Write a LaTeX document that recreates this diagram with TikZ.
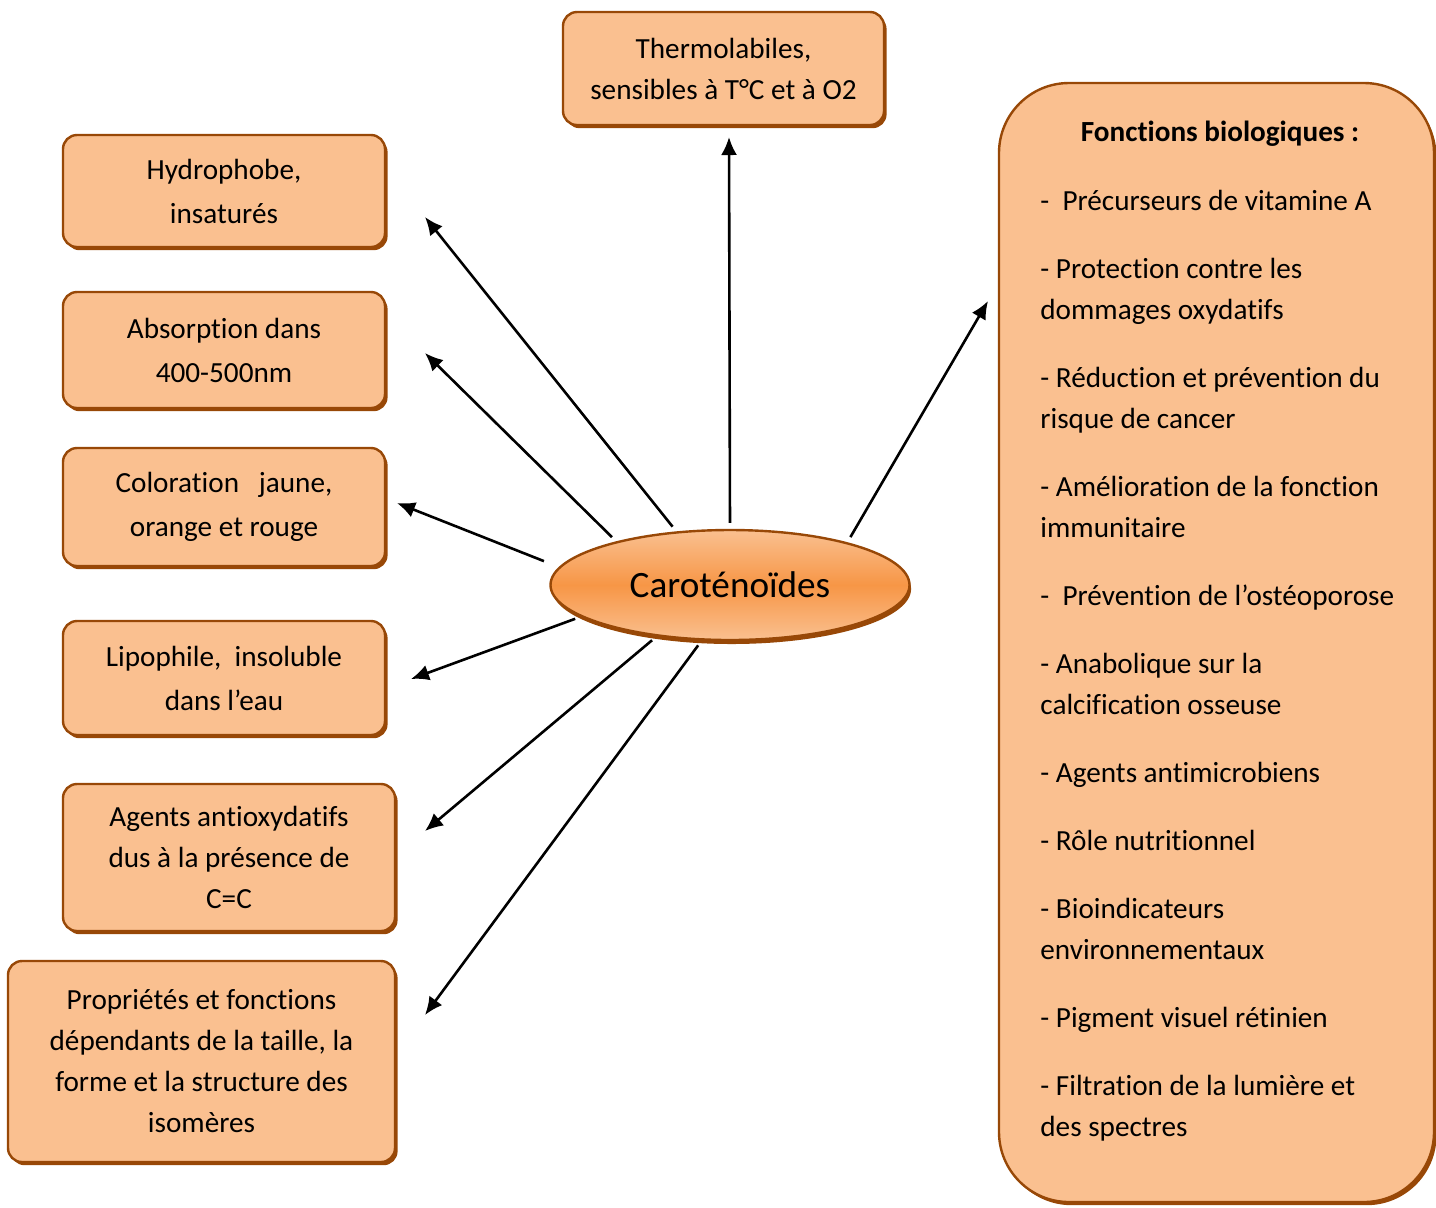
\documentclass[tikz,border=0pt]{standalone}
\usepackage{fontspec}
\setmainfont{Carlito}[Renderer=OpenType,Ligatures={NoCommon,NoContextual,NoRare}]
\usetikzlibrary{positioning,shapes.geometric,shadows,arrows.meta}
\definecolor{peau}{HTML}{FAC090}
\definecolor{brun}{HTML}{984807}
\definecolor{orangefonce}{HTML}{F79646}

\begin{document}
\begin{tikzpicture}[x=0.5pt,y=-0.5pt,
	boite/.style={draw=brun,line width=1.2pt,fill=peau,rounded corners=7pt,align=center,inner sep=0pt,
		font=\fontsize{14.6}{22}\selectfont,
		drop shadow={shadow xshift=1.3pt,shadow yshift=-1.6pt,fill=brun,opacity=1}},
	serre/.style={font=\fontsize{14.6}{20.5}\selectfont},
	fleche/.style={-{Latex[length=9pt,width=8pt]},line width=1.3pt,shorten <=3pt}]
		\useasboundingbox (0,0) rectangle (1436,1207);
		% boites de gauche
		\node [boite,serre,minimum width=160.5pt,minimum height=56.5pt] (thermo) at (723.5,68.5) {Thermolabiles,\\sensibles à T°C et à O2};
		\node [boite,minimum width=161pt,minimum height=56pt] (hydro) at (224,191) {Hydrophobe,\\insaturés};
		\node [boite,minimum width=161pt,minimum height=58pt] (absorp) at (224,350) {Absorption dans\\400-500nm};
		\node [boite,minimum width=161pt,minimum height=59pt] (color) at (224,507) {Coloration\ \ \ jaune,\\orange et rouge};
		\node [boite,minimum width=161pt,minimum height=57pt] (lipo) at (224,678) {Lipophile,\ \ insoluble\\dans l’eau};
		\node [boite,serre,minimum width=166pt,minimum height=73.5pt] (antiox) at (229,857.5) {Agents antioxydatifs\\dus à la présence de\\C=C};
		\node [boite,serre,minimum width=193.5pt,minimum height=100.5pt] (propr) at (201.5,1061.5) {Propriétés et fonctions\\dépendants de la taille, la\\forme et la structure des\\isomères};
		% fonctions biologiques
		\node [boite,rounded corners=35pt,minimum width=217.5pt,minimum height=559.5pt] (fonct) at (1216.5,642.5) {};
		\node [font=\fontsize{14.6}{20.5}\selectfont\bfseries] (titre) at (1220,134) {Fonctions biologiques :};
		\node [anchor=north west,align=left,inner sep=0pt,font=\fontsize{14.6}{20.5}\selectfont] (liste) at (1040,190) {%
			-\ \ Précurseurs de vitamine A\\[13.5pt]
			- Protection contre les\\dommages oxydatifs\\[13.5pt]
			- Réduction et prévention du\\risque de cancer\\[13.5pt]
			- Amélioration de la fonction\\immunitaire\\[13.5pt]
			-\ \ Prévention de l’ostéoporose\\[13.5pt]
			- Anabolique sur la\\calcification osseuse\\[13.5pt]
			- Agents antimicrobiens\\[13.5pt]
			- Rôle nutritionnel\\[13.5pt]
			- Bioindicateurs\\environnementaux\\[13.5pt]
			- Pigment visuel rétinien\\[13.5pt]
			- Filtration de la lumière et\\des spectres};
		% centre
		\node [ellipse,draw=brun,line width=1.2pt,top color=peau,bottom color=peau,middle color=orangefonce,
			minimum width=179.5pt,minimum height=55pt,inner sep=0pt,font=\fontsize{18.6}{22}\selectfont,
			drop shadow={shadow xshift=0.8pt,shadow yshift=-2pt,fill=brun,opacity=1}] (caro) at (730,585) {Caroténoïdes};
		% pointes des fleches
		\coordinate (pThermo) at (729,137);
		\coordinate (pHydro) at (425,217);
		\coordinate (pAbsorp) at (425,353);
		\coordinate (pColor) at (397,503);
		\coordinate (pLipo) at (411,679);
		\coordinate (pAntiox) at (425,831);
		\coordinate (pPropr) at (425,1015);
		\coordinate (pFonct) at (988,301);
		\draw [fleche] (caro.north) -- (pThermo);
		\draw [fleche] (caro.135) -- (pHydro);
		\draw [fleche] (caro.159) -- (pAbsorp);
		\draw [fleche,shorten <=8pt] (caro.174) -- (pColor);
		\draw [fleche] (caro.192.5) -- (pLipo);
		\draw [fleche] (caro.215.5) -- (pAntiox);
		\draw [fleche] (caro.243) -- (pPropr);
		\draw [fleche] (caro.20) -- (pFonct);
\end{tikzpicture}
\end{document}
